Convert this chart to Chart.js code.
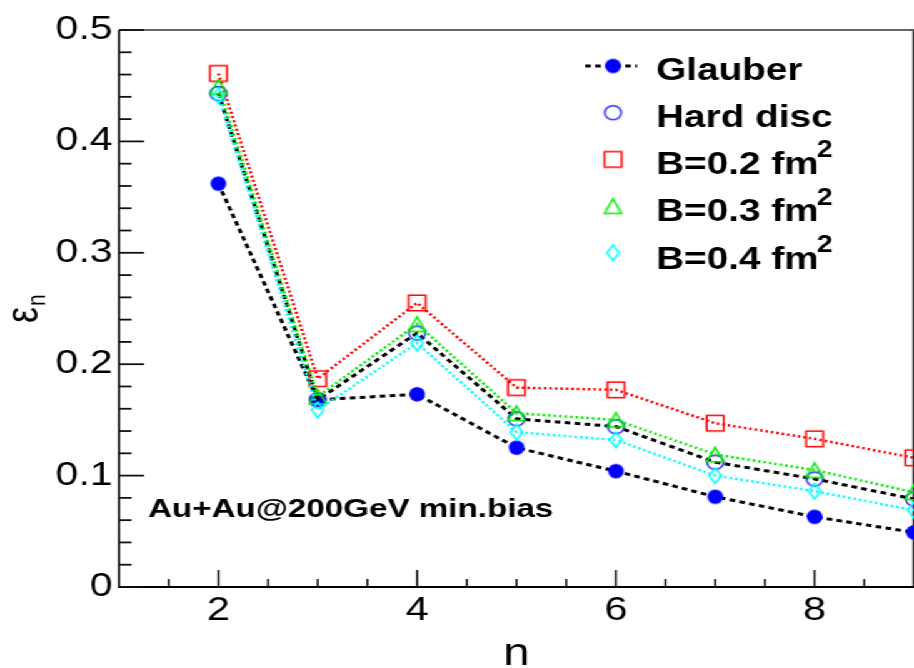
<!DOCTYPE html>
<html><head><meta charset="utf-8">
<script src="https://cdn.jsdelivr.net/npm/chart.js@4"></script>
<style>
html,body{margin:0;padding:0;background:#fff;overflow:hidden;width:914px;height:668px;}
#wrap{position:absolute;left:0;top:0;width:731px;height:668px;transform:scaleX(1.25034);transform-origin:0 0;background:#fff;}
</style></head><body>
<div id="wrap"><canvas id="c"></canvas></div>
<script>
// ---- data ----
const nValues  = [2, 3, 4, 5, 6, 7, 8, 9];
const glauber  = [0.362, 0.168, 0.173, 0.125, 0.104, 0.081, 0.063, 0.049];
const hardDisc = [0.443, 0.168, 0.228, 0.151, 0.144, 0.112, 0.097, 0.079];
const b02      = [0.461, 0.187, 0.255, 0.179, 0.177, 0.147, 0.133, 0.116];
const b03      = [0.449, 0.171, 0.236, 0.156, 0.150, 0.119, 0.105, 0.085];
const b04      = [0.441, 0.159, 0.219, 0.139, 0.132, 0.100, 0.086, 0.069];
const seriesNames = ['Glauber', 'Hard disc', 'B=0.2 fm', 'B=0.3 fm', 'B=0.4 fm'];
const seriesSup   = ['', '', '2', '2', '2'];
const xTickValues = [2, 4, 6, 8];
const yTickValues = [0, 0.1, 0.2, 0.3, 0.4, 0.5];
const xTitle = 'n';
const yTitleMain = 'ε';
const yTitleSub = 'n';
const annotationText = 'Au+Au@200GeV min.bias';

const FONT = '"Liberation Sans", Arial, Helvetica, sans-serif';

function makeMarker(shape, color, w, h, lw, filled) {
  const pad = Math.ceil(lw) + 1;
  const c = document.createElement('canvas');
  c.width = Math.ceil(w + 2 * pad); c.height = Math.ceil(h + 2 * pad);
  const g = c.getContext('2d');
  const cx = c.width / 2, cy = c.height / 2;
  g.beginPath();
  if (shape === 'circle') g.ellipse(cx, cy, w / 2, h / 2, 0, 0, Math.PI * 2);
  else if (shape === 'square') g.rect(cx - w / 2, cy - h / 2, w, h);
  else if (shape === 'triangle') { g.moveTo(cx, cy - h / 2); g.lineTo(cx + w / 2, cy + h / 2); g.lineTo(cx - w / 2, cy + h / 2); g.closePath(); }
  else if (shape === 'diamond') { g.moveTo(cx, cy - h / 2); g.lineTo(cx + w / 2, cy); g.lineTo(cx, cy + h / 2); g.lineTo(cx - w / 2, cy); g.closePath(); }
  if (filled) { g.fillStyle = color; g.fill(); }
  else { g.strokeStyle = color; g.lineWidth = lw; g.stroke(); }
  return c;
}
const markers = [
  makeMarker('circle', '#0000ff', 12.5, 14.5, 1, true),
  makeMarker('circle', '#2222ff', 13.2, 14.2, 1.5, false),
  makeMarker('square', '#ff0000', 13.6, 15.5, 1.6, false),
  makeMarker('triangle', '#00ee00', 13.6, 14.5, 1.6, false),
  makeMarker('diamond', '#00ffff', 10, 15.5, 1.5, false)
];
const lineColors = ['#000000', '#000000', '#ff0000', '#00ee00', '#00ffff'];
const seriesValues = [glauber, hardDisc, b02, b03, b04];

function toXY(arr) { return nValues.map((n, i) => ({ x: n, y: arr[i] })); }

const datasets = seriesValues.map((vals, i) => ({
  label: seriesNames[i] + seriesSup[i],
  data: toXY(vals),
  borderColor: lineColors[i],
  backgroundColor: lineColors[i],
  borderWidth: i < 2 ? 3 : 2.5,
  borderDash: i < 2 ? [4.5, 3.5] : [2, 2.4],
  pointStyle: markers[i],
  pointRadius: 8,
  pointHoverRadius: 8,
  fill: false,
  tension: 0,
  order: 4 - i
}));

const framePlugin = {
  id: 'rootFrame',
  beforeDatasetsDraw(chart) {
    const { ctx, chartArea: a, scales } = chart;
    const xs = scales.x, ys = scales.y;
    ctx.save();
    ctx.strokeStyle = '#333';
    ctx.lineWidth = 1.5;
    ctx.beginPath(); ctx.moveTo(a.left, a.top); ctx.lineTo(a.right, a.top); ctx.stroke();
    ctx.lineWidth = 1.2;
    ctx.beginPath(); ctx.moveTo(a.right - 0.6, a.top); ctx.lineTo(a.right - 0.6, a.bottom); ctx.stroke();
    ctx.strokeStyle = '#000';
    ctx.lineWidth = 1.7;
    ctx.beginPath(); ctx.moveTo(a.left, a.top); ctx.lineTo(a.left, a.bottom + 1); ctx.stroke();
    ctx.lineWidth = 2;
    ctx.beginPath(); ctx.moveTo(a.left, a.bottom); ctx.lineTo(a.right, a.bottom); ctx.stroke();
    ctx.strokeStyle = '#111';
    ctx.lineWidth = 1.8;
    const yMin = ys.min, yMax = ys.max;
    for (let k = 0; k <= Math.round((yMax - yMin) / 0.02); k++) {
      const v = yMin + k * 0.02;
      const major = k % 5 === 0;
      const py = ys.getPixelForValue(v);
      ctx.beginPath(); ctx.moveTo(a.left, py); ctx.lineTo(a.left + (major ? 20 : 10), py); ctx.stroke();
    }
    ctx.lineWidth = 1.6;
    const xMin = xs.min, xMax = xs.max;
    for (let k = 1; k < Math.round((xMax - xMin) / 0.5); k++) {
      const v = xMin + k * 0.5;
      const major = xTickValues.indexOf(v) >= 0;
      const px = xs.getPixelForValue(v);
      ctx.beginPath(); ctx.moveTo(px, a.bottom); ctx.lineTo(px, a.bottom - (major ? 17 : 8)); ctx.stroke();
    }
    ctx.restore();
  },
  afterDatasetsDraw(chart) {
    const { ctx, scales } = chart;
    ctx.save();
    ctx.fillStyle = '#000';
    ctx.textAlign = 'left';
    ctx.textBaseline = 'alphabetic';
    for (let i = 0; i < seriesNames.length; i++) {
      const base = 79.5 + i * 47.3;
      const my = 66 + i * 46.7;
      const mx = 490.3;
      if (i === 0) {
        ctx.save();
        ctx.strokeStyle = '#000'; ctx.lineWidth = 3; ctx.setLineDash([4.5, 3.5]);
        ctx.beginPath(); ctx.moveTo(468, my); ctx.lineTo(509.5, my); ctx.stroke();
        ctx.restore();
      }
      const m = markers[i];
      ctx.drawImage(m, mx - m.width / 2, my - m.height / 2);
      ctx.font = 'bold 31px ' + FONT;
      ctx.fillText(seriesNames[i], 524.7, base);
      if (seriesSup[i]) {
        const w = ctx.measureText(seriesNames[i]).width;
        ctx.font = 'bold 23px ' + FONT;
        ctx.fillText(seriesSup[i], 524.7 + w - 1.5, base - 16.7);
      }
    }
    ctx.font = 'bold 26.5px ' + FONT;
    ctx.fillText(annotationText, 118.4, 517);
    ctx.font = '38px ' + FONT;
    ctx.textAlign = 'center';
    ctx.fillText(xTitle, scales.x.getPixelForValue(5), 665);
    ctx.save();
    ctx.translate(29.6, 323);
    ctx.rotate(-Math.PI / 2);
    ctx.textAlign = 'left';
    ctx.font = '36px ' + FONT;
    ctx.fillText(yTitleMain, 0, 0);
    const ew = ctx.measureText(yTitleMain).width;
    ctx.font = '21px ' + FONT;
    ctx.fillText(yTitleSub, ew + 1, 6.4);
    ctx.restore();
    ctx.restore();
  }
};

new Chart(document.getElementById('c'), {
  type: 'line',
  data: { datasets },
  options: {
    responsive: true,
    maintainAspectRatio: false,
    animation: false,
    events: [],
    layout: { autoPadding: false, padding: { top: 30, right: 0, bottom: 0, left: 0 } },
    plugins: { legend: { display: false }, tooltip: { enabled: false } },
    scales: {
      x: {
        type: 'linear', min: 1, max: 9,
        grid: { display: false, drawTicks: false },
        border: { display: false },
        afterBuildTicks: s => { s.ticks = xTickValues.map(v => ({ value: v })); },
        afterFit: s => { s.height = 81; },
        ticks: { autoSkip: false, maxRotation: 0, padding: 4, color: '#000',
                 font: { family: FONT, size: 33 }, callback: v => String(v) }
      },
      y: {
        type: 'linear', min: 0, max: 0.5,
        grid: { display: false, drawTicks: false },
        border: { display: false },
        afterBuildTicks: s => { s.ticks = yTickValues.map(v => ({ value: v })); },
        afterFit: s => { s.width = 95.2; },
        ticks: { autoSkip: false, padding: 5, color: '#000',
                 font: { family: FONT, size: 33 }, callback: v => (v === 0 ? '0' : Number(v).toFixed(1)) }
      }
    }
  },
  plugins: [framePlugin]
});
</script>
</body></html>
